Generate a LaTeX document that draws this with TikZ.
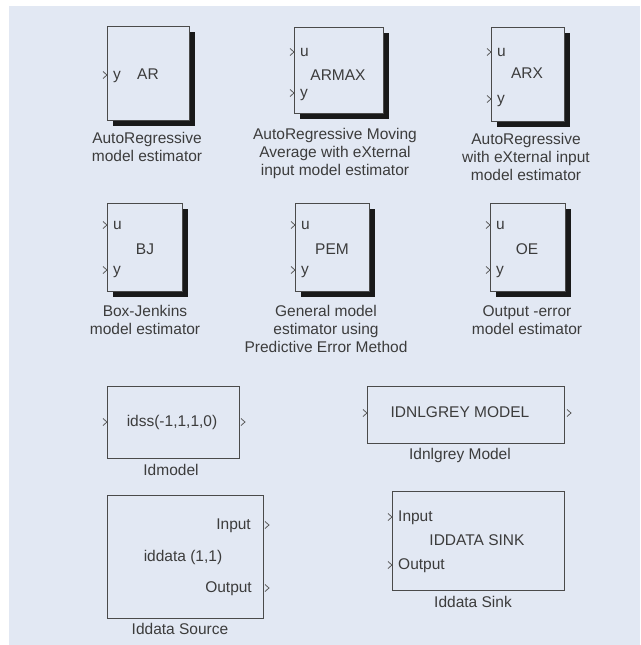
\documentclass[tikz,border=0pt]{standalone}
\usepackage{fontspec}
\setmainfont{Liberation Sans}
\usetikzlibrary{shadows}
\definecolor{bgblue}{HTML}{E2E8F3}
\definecolor{edge}{HTML}{4A4A4A}
\definecolor{ink}{HTML}{3C3C3C}
\definecolor{portgray}{HTML}{5A5A5A}
\tikzset{
  blk/.style={draw=edge, line width=1.1pt, fill=bgblue, inner sep=0pt, anchor=north west},
  shd/.style={drop shadow={shadow xshift=5pt, shadow yshift=-5pt, fill=black!90, opacity=1}},
  lbl/.style={inner sep=0pt, text=ink, font=\fontsize{15.5}{18}\selectfont, text height=11pt, text depth=3pt},
  captext/.style={inner sep=0pt, text=ink, font=\fontsize{15.5}{18}\selectfont, align=center, anchor=north},
  inport/.pic={\draw[draw=portgray, line width=0.8pt] (-4,-3.5) -- (0,0) -- (-4,3.5);},
  outport/.pic={\draw[draw=portgray, line width=0.8pt] (0,-3.5) -- (4,0) -- (0,3.5);}
}
\begin{document}
\begin{tikzpicture}[x=1pt,y=-1pt]
\useasboundingbox (0,0) rectangle (640,645);
\fill[white] (0,0) rectangle (640,645);
\fill[bgblue] (9,6) rectangle (640,645);

% ---- estimator blocks, first row
\node[blk, shd, minimum width=82pt, minimum height=94pt] (ar) at (107,26) {};
\node[lbl, anchor=west] (ar-y) at (113,75) {y};
\node[lbl] (ar-t) at (148,75) {AR};
\pic at (107,75) {inport};
\node[captext] (ar-cap) at (147,132) {AutoRegressive\\model estimator};

\node[blk, shd, minimum width=89pt, minimum height=86pt] (armax) at (294,27) {};
\node[lbl, anchor=west] (armax-u) at (300,52) {u};
\node[lbl, anchor=west] (armax-y) at (300,93) {y};
\node[lbl] (armax-t) at (338,76) {ARMAX};
\pic at (294,52) {inport};
\pic at (294,93) {inport};
\node[captext] (armax-cap) at (335,128) {AutoRegressive Moving\\Average with eXternal\\input model estimator};

\node[blk, shd, minimum width=73pt, minimum height=94pt] (arx) at (491,27) {};
\node[lbl, anchor=west] (arx-u) at (497,52) {u};
\node[lbl, anchor=west] (arx-y) at (497,99) {y};
\node[lbl] (arx-t) at (527,74) {ARX};
\pic at (491,52) {inport};
\pic at (491,99) {inport};
\node[captext] (arx-cap) at (526,133) {AutoRegressive\\with eXternal input\\model estimator};

% ---- estimator blocks, second row
\node[blk, shd, minimum width=75pt, minimum height=88pt] (bj) at (107,203) {};
\node[lbl, anchor=west] (bj-u) at (113,225) {u};
\node[lbl, anchor=west] (bj-y) at (113,270) {y};
\node[lbl] (bj-t) at (145,250) {BJ};
\pic at (107,225) {inport};
\pic at (107,270) {inport};
\node[captext] (bj-cap) at (145,305) {Box-Jenkins\\model estimator};

\node[blk, shd, minimum width=74pt, minimum height=88pt] (pem) at (295,203) {};
\node[lbl, anchor=west] (pem-u) at (301,225) {u};
\node[lbl, anchor=west] (pem-y) at (301,270) {y};
\node[lbl] (pem-t) at (332,250) {PEM};
\pic at (295,225) {inport};
\pic at (295,270) {inport};
\node[captext] (pem-cap) at (326,305) {General model\\estimator using\\Predictive Error Method};

\node[blk, shd, minimum width=75pt, minimum height=88pt] (oe) at (490,203) {};
\node[lbl, anchor=west] (oe-u) at (496,225) {u};
\node[lbl, anchor=west] (oe-y) at (496,270) {y};
\node[lbl] (oe-t) at (527,250) {OE};
\pic at (490,225) {inport};
\pic at (490,270) {inport};
\node[captext] (oe-cap) at (527,305) {Output -error\\model estimator};

% ---- model blocks
\node[blk, minimum width=132pt, minimum height=72pt] (idm) at (107,386) {};
\node[lbl] (idm-t) at (172,422) {idss(-1,1,1,0)};
\pic at (107,422) {inport};
\pic at (241,422) {outport};
\node[lbl] (idm-cap) at (171,471) {Idmodel};

\node[blk, minimum width=197pt, minimum height=57pt] (idg) at (367,386) {};
\node[lbl] (idg-t) at (460,413) {IDNLGREY MODEL};
\pic at (367,413) {inport};
\pic at (567,413) {outport};
\node[lbl] (idg-cap) at (460,455) {Idnlgrey Model};

% ---- data blocks
\node[blk, minimum width=156pt, minimum height=123pt] (src) at (107,495) {};
\node[lbl, anchor=east] (src-in) at (251,525) {Input};
\node[lbl, anchor=east] (src-out) at (252,588) {Output};
\node[lbl] (src-t) at (183,557) {iddata (1,1)};
\pic at (265,525) {outport};
\pic at (265,588) {outport};
\node[lbl] (src-cap) at (180,630) {Iddata Source};

\node[blk, minimum width=172pt, minimum height=99pt] (snk) at (392,491) {};
\node[lbl, anchor=west] (snk-in) at (398,517) {Input};
\node[lbl, anchor=west] (snk-out) at (398,565) {Output};
\node[lbl] (snk-t) at (477,541) {IDDATA SINK};
\pic at (392,517) {inport};
\pic at (392,565) {inport};
\node[lbl] (snk-cap) at (473,603) {Iddata Sink};
\end{tikzpicture}
\end{document}
